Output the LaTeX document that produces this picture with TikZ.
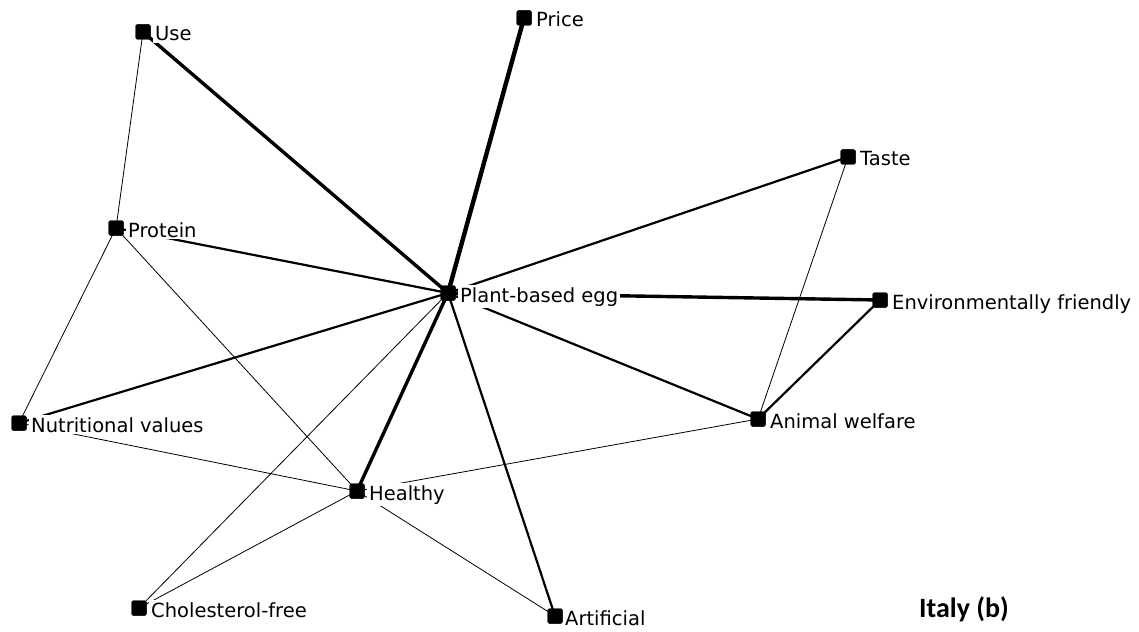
\documentclass[tikz,border=0pt]{standalone}
\usepackage{fontspec}
\setmainfont{DejaVu Sans}
\newfontfamily\capfont{Carlito}
\begin{document}
\begin{tikzpicture}[x=1pt,y=-1pt,
  sq/.style={fill=black,draw=none,minimum size=15pt,inner sep=0pt,rounded corners=1.5pt},
  lbl/.style={fill=white,inner sep=2pt,anchor=base west,font=\fontsize{19.5}{22}\selectfont},
  thin/.style={line width=0.8pt},
  mid/.style={line width=2.2pt},
  thick/.style={line width=3.4pt},
  heavy/.style={line width=4.4pt}]
\useasboundingbox (0,0) rectangle (1139,631);

% square markers
\path
  node[sq] (peg) at (448,293) {}
  node[sq] (use) at (143,32) {}
  node[sq] (price) at (524,18) {}
  node[sq] (taste) at (848,157) {}
  node[sq] (prot) at (116,228) {}
  node[sq] (env) at (880,300) {}
  node[sq] (nutr) at (19,423) {}
  node[sq] (anim) at (758,419) {}
  node[sq] (heal) at (357,491) {}
  node[sq] (chol) at (139,608) {}
  node[sq] (art) at (555,616) {};

% links
\draw[heavy] (peg.center) -- (price.center);
\draw[thick] (peg.center) -- (use.center);
\draw[thick] (peg.center) -- (env.center);
\draw[thick] (peg.center) -- (heal.center);
\draw[mid] (peg.center) -- (taste.center);
\draw[mid] (peg.center) -- (prot.center);
\draw[mid] (peg.center) -- (nutr.center);
\draw[mid] (peg.center) -- (anim.center);
\draw[mid] (peg.center) -- (art.center);
\draw[mid] (env.center) -- (anim.center);
\draw[thin] (peg.center) -- (chol.center);
\draw[thin] (use.center) -- (prot.center);
\draw[thin] (prot.center) -- (nutr.center);
\draw[thin] (prot.center) -- (heal.center);
\draw[thin] (nutr.center) -- (heal.center);
\draw[thin] (heal.center) -- (anim.center);
\draw[thin] (heal.center) -- (chol.center);
\draw[thin] (heal.center) -- (art.center);
\draw[thin] (taste.center) -- (anim.center);

% labels
\node[lbl] (peg-t) at (458,302) {Plant-based egg};
\node[lbl] (use-t) at (153,41) {Use};
\node[lbl] (price-t) at (534,27) {Price};
\node[lbl] (taste-t) at (858,166) {Taste};
\node[lbl] (prot-t) at (126,237) {Protein};
\node[lbl] (env-t) at (890,309) {Environmentally friendly};
\node[lbl] (nutr-t) at (29,432) {Nutritional values};
\node[lbl] (anim-t) at (768,428) {Animal welfare};
\node[lbl] (heal-t) at (367,500) {Healthy};
\node[lbl] (chol-t) at (149,617) {Cholesterol-free};
\node[lbl] (art-t) at (563,625) {Artificial};

% redraw markers above the labels
\foreach \n in {peg,use,price,taste,prot,env,nutr,anim,heal,chol,art}
  \fill[black,rounded corners=1.5pt] ([shift={(-7.5pt,-7.5pt)}]\n.center) rectangle ([shift={(7.5pt,7.5pt)}]\n.center);

\node[anchor=base west,inner sep=0pt,font=\capfont\bfseries\fontsize{28}{32}\selectfont] (title) at (919,617) {Italy (b)};
\end{tikzpicture}
\end{document}
